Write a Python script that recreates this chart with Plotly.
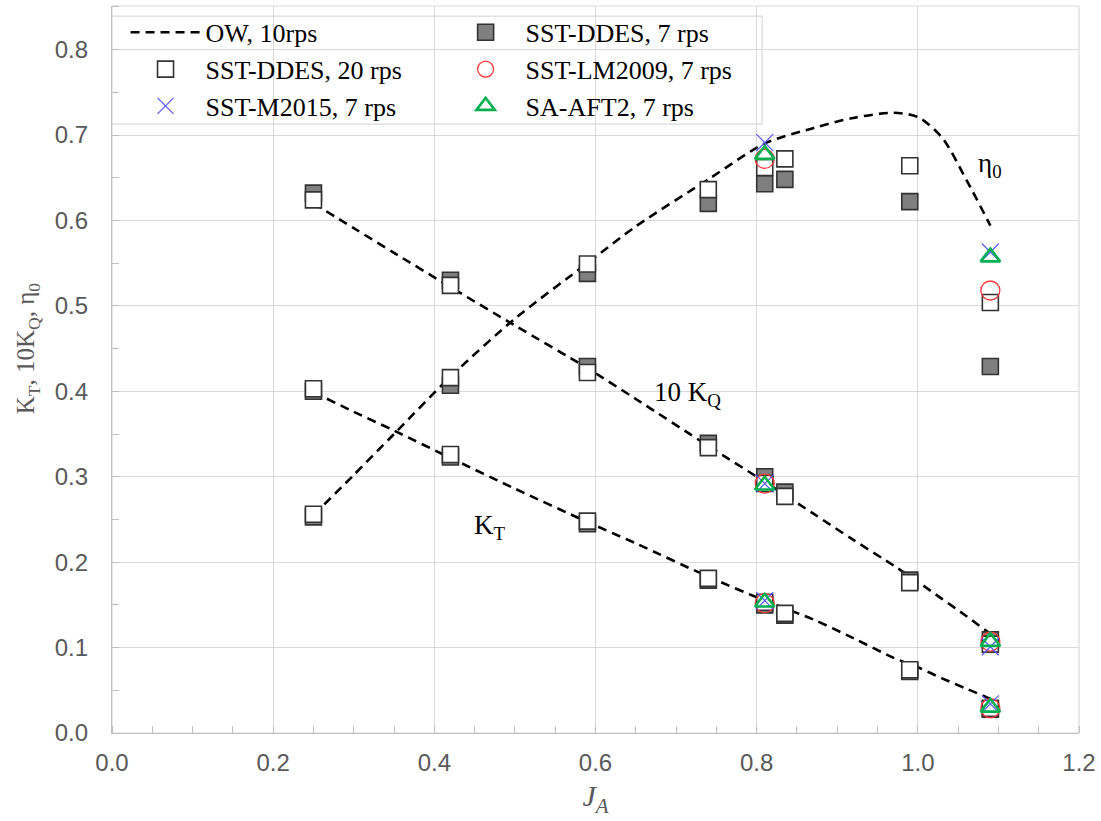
import plotly.graph_objects as go

# ---------------- data ----------------
# advance ratio of the CFD cases
J = [0.25, 0.42, 0.59, 0.74, 0.81, 0.835, 0.99, 1.09]

# open-water (OW, 10 rps) curves
J_ow = [0.25, 0.30, 0.35, 0.42, 0.50, 0.59, 0.65, 0.74, 0.81, 0.87, 0.92, 0.97, 1.00, 1.03, 1.06, 1.09]
KT_ow = [0.399, 0.376, 0.354, 0.322, 0.286, 0.247, 0.222, 0.183, 0.155, 0.133, 0.111, 0.088, 0.077, 0.064, 0.052, 0.040]
KQ10_ow = [0.620, 0.591, 0.562, 0.522, 0.477, 0.427, 0.391, 0.336, 0.294, 0.257, 0.226, 0.196, 0.177, 0.157, 0.137, 0.116]
ETA_ow = [0.255, 0.302, 0.350, 0.417, 0.485, 0.550, 0.593, 0.648, 0.690, 0.708, 0.720, 0.726, 0.721, 0.697, 0.648, 0.594]

# SST-DDES, 20 rps
KT_20 = [0.403, 0.326, 0.248, 0.181, 0.153, 0.140, 0.074, 0.029]
KQ10_20 = [0.624, 0.524, 0.422, 0.334, 0.292, 0.277, 0.176, 0.104]
ETA_20 = [0.256, 0.416, 0.549, 0.636, 0.662, 0.672, 0.664, 0.504]

# SST-DDES, 7 rps
KT_7 = [0.400, 0.323, 0.245, 0.179, 0.150, 0.138, 0.072, 0.028]
KQ10_7 = [0.632, 0.530, 0.429, 0.339, 0.300, 0.282, 0.179, 0.109]
ETA_7 = [0.253, 0.407, 0.538, 0.620, 0.643, 0.648, 0.622, 0.429]

# transition-model cases (J = 0.81 and 1.09)
J_tr = [0.81, 1.09]
KT_m2015 = [0.155, 0.034]
KQ10_m2015 = [0.292, 0.101]
ETA_m2015 = [0.691, 0.563]

KT_lm2009 = [0.152, 0.029]
KQ10_lm2009 = [0.292, 0.107]
ETA_lm2009 = [0.672, 0.518]

KT_aft2 = [0.153, 0.030]
KQ10_aft2 = [0.290, 0.107]
ETA_aft2 = [0.677, 0.557]

x_ticks = [0.0, 0.2, 0.4, 0.6, 0.8, 1.0, 1.2]
y_ticks = [0.0, 0.1, 0.2, 0.3, 0.4, 0.5, 0.6, 0.7, 0.8]


def stack(xs, *ys):
    X, Y = [], []
    for i, y in enumerate(ys):
        if i:
            X.append(None)
            Y.append(None)
        X += list(xs)
        Y += list(y)
    return X, Y


SERIF = "Liberation Serif"
SANS = "Liberation Sans"

fig = go.Figure()

x, y = stack(J_ow, KT_ow, KQ10_ow, ETA_ow)
fig.add_trace(go.Scatter(x=x, y=y, mode="lines", name="OW, 10rps",
                         line=dict(color="black", width=2.6, dash="9px,6px", shape="spline", smoothing=0.8),
                         connectgaps=False, legend="legend", legendgroup="a"))

x, y = stack(J, KT_7, KQ10_7, ETA_7)
fig.add_trace(go.Scatter(x=x, y=y, mode="markers", name="SST-DDES, 7 rps",
                         marker=dict(symbol="square", size=16, color="#7f7f7f",
                                     line=dict(color="#333333", width=1.6)),
                         legend="legend2", legendgroup="b"))

x, y = stack(J, KT_20, KQ10_20, ETA_20)
fig.add_trace(go.Scatter(x=x, y=y, mode="markers", name="SST-DDES, 20 rps",
                         marker=dict(symbol="square", size=16, color="white",
                                     line=dict(color="#333333", width=1.6)),
                         legend="legend", legendgroup="c"))

x, y = stack(J_tr, KT_lm2009, KQ10_lm2009, ETA_lm2009)
fig.add_trace(go.Scatter(x=x, y=y, mode="markers", name="SST-LM2009, 7 rps",
                         marker=dict(symbol="circle-open", size=19, color="#ff3b3b",
                                     line=dict(color="#ff3b3b", width=1.3)),
                         legend="legend2", legendgroup="d"))

x, y = stack(J_tr, KT_m2015, KQ10_m2015, ETA_m2015)
fig.add_trace(go.Scatter(x=x, y=y, mode="markers", name="SST-M2015, 7 rps",
                         marker=dict(symbol="x-thin-open", size=17, color="#5555ff",
                                     line=dict(color="#5555ff", width=1.2)),
                         legend="legend", legendgroup="e"))

x, y = stack(J_tr, KT_aft2, KQ10_aft2, ETA_aft2)
fig.add_trace(go.Scatter(x=x, y=y, mode="markers", name="SA-AFT2, 7 rps",
                         marker=dict(symbol="triangle-up-open", size=17, color="#00b050",
                                     line=dict(color="#00b050", width=2.6)),
                         legend="legend2", legendgroup="f"))

axis_common = dict(showgrid=True, gridcolor="#d9d9d9", gridwidth=1.2,
                   showline=True, linecolor="#bfbfbf", linewidth=1.3,
                   zeroline=False, ticks="", tickformat=".1f",
                   tickfont=dict(family=SANS, size=24, color="#595959"))

fig.update_xaxes(range=[0, 1.2], tickvals=x_ticks, **axis_common,
                 minor=dict(dtick=0.05, ticks="inside", ticklen=7, tickcolor="#bfbfbf",
                            tickwidth=1.2, showgrid=False),
                 ticklabelstandoff=8,
                 title=dict(text="<i>J<sub>A</sub></i>", font=dict(family=SERIF, size=30, color="#595959"),
                            standoff=10))
fig.update_yaxes(range=[0, 0.851], tickvals=y_ticks, **axis_common,
                 minor=dict(dtick=0.05, ticks="inside", ticklen=7, tickcolor="#bfbfbf",
                            tickwidth=1.2, showgrid=False),
                 ticklabelstandoff=18)

legend_common = dict(font=dict(family=SERIF, size=26, color="black"),
                     bgcolor="rgba(0,0,0,0)", borderwidth=0, itemwidth=70,
                     tracegroupgap=0, xanchor="left", yanchor="top",
                     xref="paper", yref="paper")
fig.update_layout(
    width=1101, height=821,
    margin=dict(l=112, r=22, t=6, b=88),
    plot_bgcolor="white", paper_bgcolor="white",
    legend=dict(x=0.014, y=0.996, **legend_common),
    legend2=dict(x=0.345, y=0.996, **legend_common),
    shapes=[
        dict(type="rect", xref="paper", yref="paper", x0=0, x1=1, y0=0, y1=1,
             line=dict(color="#d9d9d9", width=1.2), layer="below"),
        dict(type="rect", xref="paper", yref="paper", x0=0.0, x1=0.6723, y0=0.8376, y1=0.9862,
             line=dict(color="#d9d9d9", width=1.2), fillcolor="white", layer="between"),
    ],
    annotations=[
        dict(x=1.09, y=0.665, xref="x", yref="y", text="η<sub>0</sub>", showarrow=False,
             font=dict(family=SERIF, size=27, color="black")),
        dict(x=0.714, y=0.397, xref="x", yref="y", text="10 K<sub>Q</sub>", showarrow=False,
             font=dict(family=SERIF, size=27, color="black")),
        dict(x=0.469, y=0.241, xref="x", yref="y", text="K<sub>T</sub>", showarrow=False,
             font=dict(family=SERIF, size=27, color="black")),
        dict(x=-0.087, y=0.529, xref="paper", yref="paper", xanchor="center", yanchor="middle",
             text="K<sub>T</sub>, 10K<sub>Q</sub>, η<sub>0</sub>",
             showarrow=False, textangle=-90, font=dict(family=SERIF, size=25, color="#595959")),
    ],
)

fig.write_html("out.html")
